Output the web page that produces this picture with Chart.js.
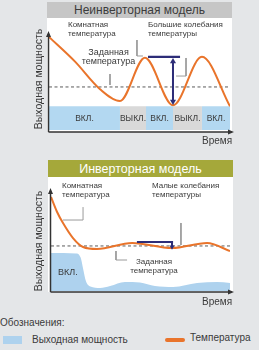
<!DOCTYPE html>
<html lang="ru">
<head>
<meta charset="utf-8">
<title>Инверторная и неинверторная модель</title>
<script src="https://cdn.jsdelivr.net/npm/chart.js@4"></script>
<style>
  html, body { margin: 0; padding: 0; }
  body {
    width: 259px; height: 350px; position: relative; overflow: hidden;
    background: #e4e6e8; color: #3a3a3a;
    font-family: "Liberation Sans", Arial, sans-serif;
  }
  .abs { position: absolute; white-space: nowrap; }
  canvas { position: absolute; left: 0; z-index: 2; }
  .panel { background: #fff; z-index: 1; }
  .head { z-index: 1; text-align: center; font-size: 12px; }
  .note { z-index: 3; font-size: 8px; line-height: 8.5px; }
  .ylab { z-index: 3; font-size: 10.5px; transform: translate(-50%, -50%) rotate(-90deg); }
  .time { z-index: 3; font-size: 10px; }
  .legend { font-size: 10px; }
</style>
</head>
<body>
  <!-- top panel: non-inverter -->
  <div class="abs head" style="left:47px;top:2px;width:185px;height:16px;line-height:17px;background:#c6c6c6;color:#3c3c3c;">Неинверторная модель</div>
  <div class="abs panel" style="left:47px;top:18px;width:185px;height:114px;"></div>
  <canvas id="topChart" width="259" height="150" style="top:0;"></canvas>
  <div class="abs note" style="left:68px;top:21px;">Комнатная<br>температура</div>
  <div class="abs note" style="left:148px;top:21px;">Большие колебания<br>температуры</div>
  <div class="abs note" style="left:80px;top:48px;width:57px;text-align:center;font-size:9px;line-height:9px;">Заданная<br>температура</div>
  <div class="abs ylab" style="left:38px;top:79px;">Выходная мощность</div>
  <div class="abs time" style="left:202px;top:135px;">Время</div>

  <!-- bottom panel: inverter -->
  <div class="abs head" style="left:48px;top:160px;width:185px;height:17px;line-height:18px;background:#a5a83a;color:#fff;font-size:12.5px;">Инверторная модель</div>
  <div class="abs panel" style="left:48px;top:177px;width:185px;height:115px;"></div>
  <canvas id="botChart" width="259" height="150" style="top:150px;"></canvas>
  <div class="abs note" style="left:62px;top:181px;line-height:9px;">Комнатная<br>температура</div>
  <div class="abs note" style="left:152px;top:181px;line-height:9px;">Малые колебания<br>температуры</div>
  <div class="abs note" style="left:127px;top:257px;width:54px;text-align:center;line-height:9px;">Заданная<br>температура</div>
  <div class="abs note" style="left:58px;top:268px;font-size:9px;">ВКЛ.</div>
  <div class="abs ylab" style="left:38px;top:241px;">Выходная мощность</div>
  <div class="abs time" style="left:202px;top:296px;">Время</div>

  <!-- legend -->
  <div class="abs legend" style="left:0;top:317px;">Обозначения:</div>
  <div class="abs" style="left:3px;top:336px;width:19px;height:8px;background:#aed2ee;"></div>
  <div class="abs legend" style="left:32px;top:334px;">Выходная мощность</div>
  <div class="abs" style="left:165px;top:338px;width:20px;height:4px;border-radius:2px;background:#e9742b;"></div>
  <div class="abs legend" style="left:190px;top:332px;">Температура</div>

<script>
// ---- Non-inverter model (top) ----
const topTime = [0, 14.4, 28.2, 39.2, 53, 68.5, 84.5, 100];
const topTemp = [98, 72, 43, 30.5, 76, 26, 77, 25];
const topSetpoint = 45.3;
const topSwitchTimes = [0, 39.2, 53.6, 68.5, 84.5, 100];
const topStates = ['ВКЛ.', 'ВЫКЛ.', 'ВКЛ.', 'ВЫКЛ.', 'ВКЛ.'];
const topPowerLevel = 25;
const topSwingTime = [54.7, 72.4];
const topSwingTop = 77;
const topArrowTime = 68.5;
const topArrowEnds = [72, 30];
const topLeaders = [
  [[48.6, 94.7], [48.6, 77.9], [51.9, 77.9]],
  [[75.7, 75.8], [75.7, 56.8], [70.2, 56.8]],
  [[33.7, 58.9], [33.7, 47.4]]
];

// ---- Inverter model (bottom) ----
const botTime = [0, 3.4, 6.7, 12.3, 17.9, 25.7, 45.3, 67.6, 87.2, 100];
const botTemp = [95, 79.8, 68.7, 53.5, 44.4, 42.4, 48.5, 43.4, 48.5, 40.4];
const botSetpoint = 45.5;
const botPowerTime = [0, 14, 16.5, 18, 19.5, 22, 27.4, 33, 41.3, 49.7, 58.1, 68.2, 81.6, 92.7, 100];
const botPower = [38.4, 38, 34, 22, 10, 4.5, 3, 5, 9.1, 8.6, 5, 4, 8.1, 9.1, 8.1];
const botSwingTime = [48, 68.2];
const botSwingTop = 49.5;
const botArrowTime = 67.6;
const botArrowEnds = [48.5, 44.5];
const botLeaders = [
  [[6.7, 71.7], [17.9, 71.7], [17.9, 84.8]],
  [[72.6, 68.7], [72.6, 46.5]],
  [[36.3, 40.4], [36.3, 31.3], [42.5, 31.3]]
];

const ORANGE = '#e9742b';
const NAVY = '#2d2d78';
const BLUE = '#b3d8f1';
const GRAY = '#d9d9d9';
const AREA_BLUE = '#aed2ee';
const LEADER = '#9a9a9a';

const pts = (xs, ys) => xs.map((x, i) => ({ x: x, y: ys[i] }));
const poly = p => p.map(([x, y]) => ({ x: x, y: y }));

// Draws the two axes with arrow heads just outside the chart area
const axisArrows = {
  id: 'axisArrows',
  afterDatasetsDraw(chart, args, opts) {
    const { ctx, chartArea: a } = chart;
    const x0 = a.left - 0.5, y0 = a.bottom + opts.gap;
    ctx.save();
    ctx.strokeStyle = '#333';
    ctx.fillStyle = '#333';
    ctx.lineWidth = 1.5;
    ctx.beginPath();
    ctx.moveTo(x0, y0);
    ctx.lineTo(x0, a.top - 1);
    ctx.moveTo(x0, y0);
    ctx.lineTo(a.right + 2, y0);
    ctx.stroke();
    ctx.beginPath();
    ctx.moveTo(x0, a.top - 4);
    ctx.lineTo(x0 - 2.5, a.top + 2);
    ctx.lineTo(x0 + 2.5, a.top + 2);
    ctx.closePath();
    ctx.moveTo(a.right + 4, y0);
    ctx.lineTo(a.right - 2, y0 - 2.5);
    ctx.lineTo(a.right - 2, y0 + 2.5);
    ctx.closePath();
    ctx.fill();
    ctx.restore();
  }
};

// Writes the on/off state into each power block
const stateLabels = {
  id: 'stateLabels',
  afterDatasetsDraw(chart, args, opts) {
    if (!opts.states) return;
    const { ctx, scales } = chart;
    ctx.save();
    ctx.font = '8.5px "Liberation Sans", Arial, sans-serif';
    ctx.fillStyle = '#3a3a3a';
    ctx.textAlign = 'center';
    ctx.textBaseline = 'middle';
    opts.states.forEach((s, i) => {
      const cx = scales.x.getPixelForValue((opts.bounds[i] + opts.bounds[i + 1]) / 2);
      const cy = scales.y.getPixelForValue(opts.level / 2);
      ctx.fillText(s, cx, cy + 0.5);
    });
    ctx.restore();
  }
};

function baseOptions(padding, gap, stateOpts) {
  return {
    responsive: false,
    animation: false,
    events: [],
    layout: { padding: padding },
    scales: {
      x: { type: 'linear', min: 0, max: 100, display: false },
      y: { min: 0, max: 100, display: false }
    },
    plugins: {
      legend: { display: false },
      tooltip: { enabled: false },
      axisArrows: { gap: gap },
      stateLabels: stateOpts
    }
  };
}

function markerSets(swingTime, swingTop, arrowTime, arrowEnds, leaders, setpoint, both) {
  const sets = leaders.map(l => ({
    data: poly(l), borderColor: LEADER, borderWidth: 1, pointRadius: 0, fill: false, order: 4
  }));
  sets.push({
    data: [{ x: 0, y: setpoint }, { x: 100, y: setpoint }],
    borderColor: '#5a5a5a', borderWidth: 1, borderDash: [3, 2.5], pointRadius: 0, fill: false, order: 3
  });
  sets.push({
    data: [{ x: swingTime[0], y: swingTop }, { x: swingTime[1], y: swingTop }],
    borderColor: NAVY, borderWidth: 2.2, pointRadius: 0, fill: false, order: 0
  });
  sets.push({
    data: [{ x: arrowTime, y: arrowEnds[0] }, { x: arrowTime, y: arrowEnds[1] }],
    borderColor: NAVY, borderWidth: 2, fill: false, order: 0,
    pointStyle: 'triangle',
    pointRadius: both ? [3.5, 3.5] : [0, 2.8],
    pointRotation: [0, 180],
    pointBackgroundColor: NAVY, pointBorderColor: NAVY, pointBorderWidth: 0
  });
  return sets;
}

// Top chart
const topSets = [{
  data: pts(topTime, topTemp), borderColor: ORANGE, borderWidth: 2,
  cubicInterpolationMode: 'monotone', pointRadius: 0, fill: false, order: 1
}].concat(markerSets(topSwingTime, topSwingTop, topArrowTime, topArrowEnds, topLeaders, topSetpoint, true));
topStates.forEach((s, i) => {
  topSets.push({
    data: [{ x: topSwitchTimes[i], y: topPowerLevel }, { x: topSwitchTimes[i + 1], y: topPowerLevel }],
    fill: 'origin', backgroundColor: s === 'ВКЛ.' ? BLUE : GRAY,
    borderWidth: 0, pointRadius: 0, order: 10
  });
});

new Chart(document.getElementById('topChart'), {
  type: 'line',
  data: { datasets: topSets },
  options: baseOptions({ left: 49, right: 29, top: 35, bottom: 20 }, 2,
    { states: topStates, bounds: topSwitchTimes, level: topPowerLevel }),
  plugins: [axisArrows, stateLabels]
});

// Bottom chart
const botSets = [{
  data: pts(botTime, botTemp), borderColor: ORANGE, borderWidth: 2,
  cubicInterpolationMode: 'monotone', pointRadius: 0, fill: false, order: 1
}].concat(markerSets(botSwingTime, botSwingTop, botArrowTime, botArrowEnds, botLeaders, botSetpoint, false));
botSets.push({
  data: pts(botPowerTime, botPower), fill: 'origin', backgroundColor: AREA_BLUE,
  cubicInterpolationMode: 'monotone', borderWidth: 0, pointRadius: 0, order: 10
});

new Chart(document.getElementById('botChart'), {
  type: 'line',
  data: { datasets: botSets },
  options: baseOptions({ left: 51, right: 29, top: 42, bottom: 9 }, 1, {}),
  plugins: [axisArrows, stateLabels]
});
</script>
</body>
</html>
